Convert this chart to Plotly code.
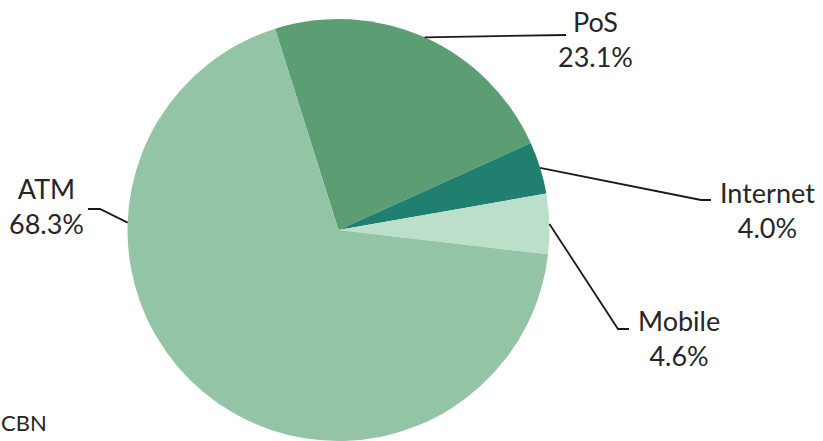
import math
import plotly.graph_objects as go

# ---- data ----
channels = ["PoS", "Internet", "Mobile", "ATM"]
shares = [23.1, 4.0, 4.6, 68.3]
share_labels = ["23.1%", "4.0%", "4.6%", "68.3%"]
colors = ["#5c9e74", "#217f6f", "#bcdfca", "#94c4a6"]
source_text = "CBN"

# ---- layout constants (pixels) ----
W, H = 823, 441
CX, CY, R = 338.5, 230.0, 211.0
ROTATION = -17.5  # start of first slice, degrees clockwise from 12 o'clock
FONT = "Lato, 'Open Sans', sans-serif"
TXT = "#262626"

# per-label leader layout: optional anchor angle override, elbow, end, text centre
label_layout = {
    "PoS":      dict(anchor=None, elbow=(566, 35), end=(566, 35), text=(595, 39)),
    "Internet": dict(anchor=None, elbow=(701, 200), end=(711, 200), text=(767, 210)),
    "Mobile":   dict(anchor=None, elbow=(618, 329), end=(629, 329), text=(679, 338)),
    "ATM":      dict(anchor=272.0, elbow=(100, 209), end=(88, 209), text=(46, 206)),
}


def px(x):
    return x / W


def py(y):
    return 1 - y / H


fig = go.Figure(go.Pie(
    labels=channels,
    values=shares,
    sort=False,
    direction="clockwise",
    rotation=ROTATION,
    marker=dict(colors=colors, line=dict(width=0)),
    textinfo="none",
    hoverinfo="label+percent",
    showlegend=False,
    domain=dict(x=[px(CX - R), px(CX + R)], y=[py(CY + R), py(CY - R)]),
))

total = sum(shares)
shapes = []
annotations = []
cum = 0.0
for name, val, lab in zip(channels, shares, share_labels):
    mid = ROTATION + 360.0 * (cum + val / 2) / total
    cum += val
    L = label_layout[name]
    ang = L["anchor"] if L["anchor"] is not None else mid
    t = math.radians(ang)
    sx = CX + R * math.sin(t)
    sy = CY - R * math.cos(t)
    ex, ey = L["elbow"]
    fx, fy = L["end"]
    path = f"M {px(sx)},{py(sy)} L {px(ex)},{py(ey)} L {px(fx)},{py(fy)}"
    shapes.append(dict(type="path", xref="paper", yref="paper", path=path,
                       line=dict(color="#1a1a1a", width=1.8)))
    tx, ty = L["text"]
    annotations.append(dict(
        x=px(tx), y=py(ty), xref="paper", yref="paper",
        text=f"{name}<br>{lab}", showarrow=False,
        xanchor="center", yanchor="middle", align="center",
        font=dict(family=FONT, size=27, color=TXT),
    ))

annotations.append(dict(
    x=px(-1), y=py(422), xref="paper", yref="paper", text=source_text,
    showarrow=False, xanchor="left", yanchor="middle",
    font=dict(family=FONT, size=22, color=TXT),
))

fig.update_layout(
    width=W, height=H,
    margin=dict(l=0, r=0, t=0, b=0),
    paper_bgcolor="white", plot_bgcolor="white",
    shapes=shapes, annotations=annotations,
)

fig.write_html(
    "out.html",
    config={"displayModeBar": False},
    post_script="document.body.style.margin='0';document.body.style.overflow='hidden';",
)
